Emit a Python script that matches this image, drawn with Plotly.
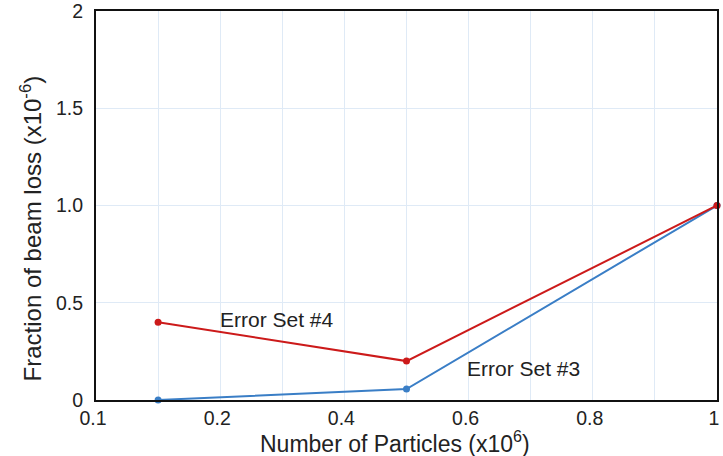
import plotly.graph_objects as go

particles = [0.1, 0.5, 1.0]
loss_set4 = [0.40, 0.20, 1.0]
loss_set3 = [0.0, 0.056, 1.0]

x_tickvals = [0, 0.2, 0.4, 0.6, 0.8, 1.0]
x_ticktext = ["0.1", "0.2", "0.4", "0.6", "0.8", "1"]
y_tickvals = [0, 0.5, 1.0, 1.5, 2.0]
y_ticktext = ["0", "0.5", "1.0", "1.5", "2"]

RED = "#cc1a1a"
BLUE = "#3a7ec6"
FONT = "Liberation Sans, Arial, sans-serif"
TXT = "#222222"

fig = go.Figure()
fig.add_trace(go.Scatter(x=particles, y=loss_set3, mode="lines+markers",
                         line=dict(color=BLUE, width=2), marker=dict(color=BLUE, size=7),
                         name="Error Set #3", cliponaxis=False))
fig.add_trace(go.Scatter(x=particles, y=loss_set4, mode="lines+markers",
                         line=dict(color=RED, width=2), marker=dict(color=RED, size=7),
                         name="Error Set #4", cliponaxis=False))

fig.add_annotation(x=0.291, y=0.415, text="Error Set #4", showarrow=False,
                   font=dict(size=21, color=TXT, family=FONT))
fig.add_annotation(x=0.689, y=0.164, text="Error Set #3", showarrow=False,
                   font=dict(size=21, color=TXT, family=FONT))

# axis titles placed as paper annotations for exact placement
fig.add_annotation(xref="paper", yref="paper", x=0.4815, y=-0.1077,
                   text="Number of Particles (x10<sup>6</sup>)", showarrow=False,
                   xanchor="center", yanchor="middle",
                   font=dict(size=23, color=TXT, family=FONT))
fig.add_annotation(xref="paper", yref="paper", x=-0.1047, y=0.441,
                   text="Fraction of beam loss (x10<sup>-6</sup>)", showarrow=False,
                   textangle=-90, xanchor="center", yanchor="middle",
                   font=dict(size=24, color=TXT, family=FONT))

fig.update_layout(
    width=723, height=456,
    margin=dict(l=96, r=6, t=11, b=56, autoexpand=False),
    paper_bgcolor="white", plot_bgcolor="white",
    showlegend=False,
    font=dict(family=FONT, color=TXT),
    xaxis=dict(range=[0, 1.0], tickvals=x_tickvals, ticktext=x_ticktext,
               tickfont=dict(size=19.5), showgrid=False, zeroline=False,
               showline=True, linecolor="#111111", linewidth=2, mirror=True,
               ticks="", ticklen=0, automargin=False, ticklabeloverflow="allow",
               ticklabelshift=-3,
               minor=dict(dtick=0.1, tick0=0, showgrid=True, gridcolor="#dfeaf6", gridwidth=1)),
    yaxis=dict(range=[0, 2.0], tickvals=y_tickvals, ticktext=y_ticktext,
               tickfont=dict(size=19.5), showgrid=True, gridcolor="#dfeaf6", gridwidth=1,
               zeroline=False, showline=True, linecolor="#111111", linewidth=2, mirror=True,
               ticks="", ticklen=0, automargin=False, ticklabeloverflow="allow",
               ticklabelstandoff=7),
)

fig.write_html("out.html", config={"displayModeBar": False},
               post_script="document.body.style.margin='0';document.body.style.overflow='hidden';")
